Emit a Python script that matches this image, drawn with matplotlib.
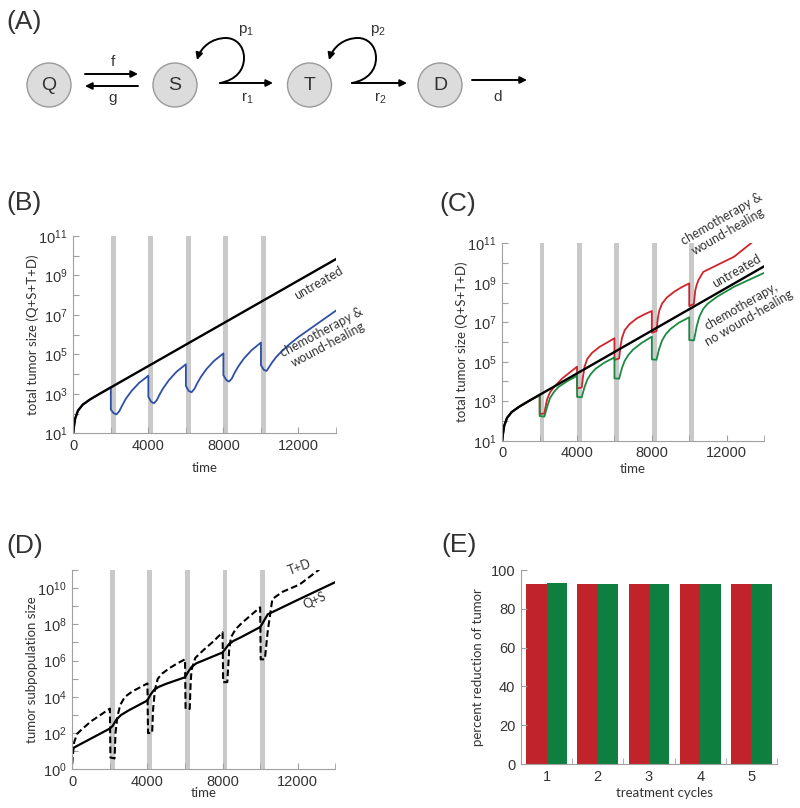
import numpy as np
import matplotlib
matplotlib.use("Agg")
import matplotlib.pyplot as plt
from matplotlib.patches import Circle, FancyArrowPatch
from matplotlib.path import Path
from matplotlib.ticker import FixedLocator, FixedFormatter, NullLocator

plt.rcParams["font.family"] = ["Liberation Sans", "DejaVu Sans"]
plt.rcParams["mathtext.default"] = "regular"

LABEL_FONT = ["Lato", "DejaVu Sans"]
TXT = "#333333"
AX_GRAY = "#a0a0a0"
BAR_GRAY = "#c9c9c9"

# ---- data, sizes stored as log10 ----
treat_start = [2000, 4000, 6000, 8000, 10000]
treat_len = 250

untreated_t = [0, 30, 100, 250, 500, 900, 1400, 14000]
untreated_log = [1.0, 1.3, 1.75, 2.15, 2.45, 2.72, 3.0, 9.83]

b_chemo_t = [0, 30, 100, 250, 500, 900, 1400, 2000,
             2000, 2150, 2300, 2450, 2600, 2800, 3100, 3500, 4000,
             4000, 4150, 4300, 4450, 4600, 4800, 5100, 5500, 6000,
             6000, 6150, 6300, 6450, 6600, 6800, 7100, 7500, 8000,
             8000, 8150, 8300, 8450, 8600, 8800, 9100, 9500, 10000,
             10000, 10150, 10300, 10450, 10600, 10800, 11100, 11500, 12000, 13000, 14000]
b_chemo_log = [1.0, 1.3, 1.75, 2.15, 2.45, 2.72, 3.0, 3.33,
               2.2, 2.02, 1.96, 2.12, 2.4, 2.75, 3.14, 3.55, 3.92,
               2.85, 2.6, 2.52, 2.68, 2.97, 3.3, 3.7, 4.12, 4.5,
               3.4, 3.15, 3.08, 3.24, 3.53, 3.86, 4.26, 4.67, 5.05,
               3.95, 3.7, 3.62, 3.78, 4.07, 4.4, 4.8, 5.21, 5.6,
               4.45, 4.22, 4.16, 4.38, 4.6, 4.85, 5.15, 5.5, 5.88, 6.55, 7.22]

c_wound_t = [0, 30, 100, 250, 500, 900, 1400, 2000,
             2000, 2250, 2320, 2400, 2550, 2800, 3200, 3600, 4000,
             4000, 4250, 4320, 4400, 4550, 4800, 5200, 5600, 6000,
             6000, 6250, 6320, 6400, 6550, 6800, 7200, 7600, 8000,
             8000, 8250, 8320, 8400, 8550, 8800, 9200, 9600, 10000,
             10000, 10250, 10320, 10400, 10500, 10750, 11500, 12400, 13340]
c_wound_log = [1.0, 1.3, 1.75, 2.15, 2.45, 2.72, 3.0, 3.33,
               2.35, 2.38, 2.75, 3.1, 3.45, 3.75, 4.15, 4.45, 4.75,
               3.65, 3.7, 4.25, 4.75, 5.15, 5.45, 5.75, 5.97, 6.19,
               5.09, 5.17, 5.75, 6.2, 6.6, 6.9, 7.2, 7.4, 7.57,
               6.47, 6.55, 7.2, 7.6, 7.95, 8.25, 8.55, 8.78, 8.97,
               7.82, 7.93, 8.6, 8.9, 9.15, 9.55, 9.9, 10.32, 11.03]

c_nowound_t = [0, 30, 100, 250, 500, 900, 1400, 2000,
               2000, 2250, 2320, 2400, 2550, 2750, 3000, 3450, 4000,
               4000, 4250, 4320, 4400, 4550, 4750, 5000, 5450, 6000,
               6000, 6250, 6320, 6400, 6550, 6750, 7000, 7450, 8000,
               8000, 8250, 8320, 8400, 8550, 8750, 9000, 9450, 10000,
               10000, 10250, 10320, 10400, 10550, 10750, 11000, 11500, 12400, 14000]
c_nowound_log = [1.0, 1.3, 1.75, 2.15, 2.45, 2.72, 3.0, 3.33,
                 2.25, 2.22, 2.45, 2.72, 3.15, 3.45, 3.72, 4.0, 4.29,
                 3.22, 3.2, 3.45, 3.72, 4.1, 4.4, 4.65, 4.95, 5.22,
                 4.16, 4.14, 4.4, 4.68, 5.05, 5.35, 5.62, 5.95, 6.27,
                 5.12, 5.1, 5.38, 5.68, 6.08, 6.4, 6.66, 6.98, 7.25,
                 6.1, 6.08, 6.4, 6.8, 7.3, 7.68, 7.95, 8.3, 8.8, 9.5]

d_qs_t = [0, 2000, 2150, 2350, 2600, 3000, 4000, 4150, 4350, 4600, 5000,
          6000, 6150, 6350, 6600, 7000, 8000, 8150, 8350, 8600, 9000,
          10000, 10150, 10400, 12000, 14000]
d_qs_log = [1.15, 2.25, 2.4, 2.75, 3.0, 3.25, 3.8, 4.1, 4.38, 4.55, 4.72,
            5.08, 5.35, 5.65, 5.85, 6.02, 6.45, 6.65, 6.92, 7.1, 7.3,
            7.85, 8.1, 8.55, 9.35, 10.33]

d_td_t = [0, 30, 100, 250, 500, 1000, 2000,
          2030, 2250, 2300, 2400, 2550, 2800, 3200, 3600, 4000,
          4030, 4250, 4300, 4400, 4550, 4800, 5200, 5600, 6000,
          6030, 6250, 6300, 6350, 6550, 6950, 7500, 8000,
          8030, 8250, 8350, 8450, 8700, 9050, 9500, 10000,
          10030, 10250, 10400, 10650, 11200, 12100, 13150]
d_td_log = [0.3, 0.8, 1.5, 1.95, 2.2, 2.65, 3.35,
            0.65, 0.6, 2.0, 2.9, 3.55, 4.0, 4.3, 4.52, 4.74,
            2.0, 2.0, 3.3, 4.4, 5.0, 5.3, 5.6, 5.85, 6.07,
            3.33, 3.33, 4.8, 5.5, 6.15, 6.55, 7.05, 7.56,
            4.81, 4.81, 6.6, 7.3, 7.74, 8.1, 8.5, 8.94,
            6.07, 6.07, 7.6, 9.4, 9.8, 10.2, 11.03]

e_cycles = [1, 2, 3, 4, 5]
e_wound = [92.8, 92.8, 92.8, 92.8, 92.8]
e_nowound = [93.1, 92.8, 92.8, 92.8, 92.8]

# diagram
node_names = ["Q", "S", "T", "D"]
rate_arrows = [("f", 85, 74, 138, 74, 113, 62), ("g", 138, 86, 85, 86, 113, 98),
               ("$r_1$", 220, 83, 273, 83, 247, 98), ("$r_2$", 352, 83, 407, 83, 380, 98),
               ("d", 472, 80, 527, 80, 498, 97)]
loop_labels = ["$p_1$", "$p_2$"]

W, H = 800, 808
fig = plt.figure(figsize=(8.0, 8.08), dpi=100)


def px_axes(l, t, r, b):
    return fig.add_axes([l / W, 1 - b / H, (r - l) / W, (b - t) / H])


def ftext(x, y, s, **kw):
    fig.text(x / W, 1 - y / H, s, **kw)


# ---- panel A: the compartment diagram ----
axA = fig.add_axes([0, 0, 1, 1])
axA.set_xlim(0, W)
axA.set_ylim(H, 0)
axA.axis("off")
node_x = [49, 175, 309.5, 440]
for name, x in zip(node_names, node_x):
    axA.add_patch(Circle((x, 85), 22, facecolor="#dcdcdc", edgecolor="#9a9a9a", lw=1.0))
    axA.text(x, 86, name, ha="center", va="center", fontsize=14, color=TXT)
for lab, x0, y0, x1, y1, lx, ly in rate_arrows:
    axA.annotate("", xy=(x1, y1), xytext=(x0, y0),
                 arrowprops=dict(arrowstyle="-|>", color="black", lw=1.4,
                                 mutation_scale=10, shrinkA=0, shrinkB=0))
    axA.text(lx, ly, lab, ha="center", va="center", fontsize=11, color=TXT)
for lab, x0 in zip(loop_labels, [220, 352]):
    y0 = 83
    verts = [(x0, y0), (x0 + 16, y0 - 3), (x0 + 24, y0 - 13), (x0 + 24, y0 - 25),
             (x0 + 24, y0 - 38), (x0 + 15, y0 - 45), (x0 + 6, y0 - 45),
             (x0 - 8, y0 - 45), (x0 - 19, y0 - 36), (x0 - 23, y0 - 23)]
    codes = [Path.MOVETO] + [Path.CURVE4] * 9
    axA.add_patch(FancyArrowPatch(path=Path(verts, codes), arrowstyle="-|>",
                                  mutation_scale=10, lw=1.4, color="black"))
    axA.text(x0 + 26, 31, lab, ha="center", va="center", fontsize=11, color=TXT)


def style_log(ax, lo, hi, labeled):
    ax.set_yscale("log")
    ax.set_xlim(0, 14000)
    ax.set_ylim(10.0 ** lo, 10.0 ** hi)
    ks = list(range(lo, hi + 1))
    ax.yaxis.set_major_locator(FixedLocator([10.0 ** k for k in ks]))
    ax.yaxis.set_major_formatter(FixedFormatter(
        [f"$10^{{{k}}}$" if k in labeled else "" for k in ks]))
    ax.yaxis.set_minor_locator(NullLocator())
    ax.set_xticks([0, 4000, 8000, 12000])
    ax.set_xticks([2000, 6000, 10000, 14000], minor=True)
    for s in ["top", "right"]:
        ax.spines[s].set_visible(False)
    for s in ["left", "bottom"]:
        ax.spines[s].set_color(AX_GRAY)
    ax.tick_params(which="both", direction="in", color=AX_GRAY, length=4,
                   labelsize=10.5, labelcolor=TXT, pad=4)
    for s in treat_start:
        ax.axvspan(s, s + treat_len, color=BAR_GRAY, lw=0, zorder=0)


def lab(ax, xl, yl, xl_off, yl_x, xl_x=0.5):
    ax.set_xlabel(xl, family=LABEL_FONT, fontsize=9.5, color=TXT)
    ax.set_ylabel(yl, family=LABEL_FONT, fontsize=9.5, color=TXT)
    ax.xaxis.set_label_coords(xl_x, xl_off)
    ax.yaxis.set_label_coords(yl_x, 0.5)
    ax.xaxis.label.set_va("center")
    ax.yaxis.label.set_va("center")


def p10(a):
    return np.power(10.0, a)


# ---- panel B ----
axB = px_axes(73.3, 236, 336, 433.3)
style_log(axB, 1, 11, [1, 3, 5, 7, 9, 11])
axB.plot(b_chemo_t, p10(b_chemo_log), color="#2d4fa6", lw=1.3)
axB.plot(untreated_t, p10(untreated_log), color="black", lw=1.7)
lab(axB, "time", "total tumor size (Q+S+T+D)", -35 / 197.3, -41 / 262.7)

# ---- panel C ----
axC = px_axes(502.3, 243.3, 764, 440.7)
style_log(axC, 1, 11, [1, 3, 5, 7, 9, 11])
axC.plot(c_wound_t, p10(c_wound_log), color="#d0232a", lw=1.3)
axC.plot(c_nowound_t, p10(c_nowound_log), color="#1a8a40", lw=1.3)
axC.plot(untreated_t, p10(untreated_log), color="black", lw=1.7)
lab(axC, "time", "total tumor size (Q+S+T+D)", -28 / 197.4, -40.6 / 261.7)

# ---- panel D ----
axD = px_axes(72.3, 570, 335.3, 769.3)
style_log(axD, 0, 11, [0, 2, 4, 6, 8, 10])
axD.plot(d_td_t, p10(d_td_log), color="black", lw=1.5, ls=(0, (3.2, 1.6)))
axD.plot(d_qs_t, p10(d_qs_log), color="black", lw=1.6)
lab(axD, "time", "tumor subpopulation size", -24 / 199.3, -40 / 263)

# ---- panel E ----
axE = px_axes(521, 570, 777, 764)
xs = np.array(e_cycles, dtype=float)
axE.bar(xs - 0.2, e_wound, width=0.4, color="#c1232b", lw=0)
axE.bar(xs + 0.2, e_nowound, width=0.4, color="#0e7f3e", lw=0)
axE.set_xlim(0.5, 5.5)
axE.set_ylim(0, 100)
axE.set_yticks([0, 20, 40, 60, 80, 100])
axE.set_xticks(e_cycles)
axE.set_xticks([1.5, 2.5, 3.5, 4.5, 5.5], minor=True)
for s in ["top", "right"]:
    axE.spines[s].set_visible(False)
for s in ["left", "bottom"]:
    axE.spines[s].set_color(AX_GRAY)
axE.tick_params(which="both", direction="in", color=AX_GRAY, length=4,
                labelsize=10.5, labelcolor=TXT, pad=4)
axE.tick_params(axis="x", which="major", length=0)
lab(axE, "treatment cycles", "percent reduction of tumor", -29 / 194, -43 / 256, 0.56)

# ---- annotations ----
ann = dict(family=LABEL_FONT, fontsize=9, color=TXT, ha="center", va="center",
           multialignment="center", rotation_mode="anchor")
ftext(319, 283, "untreated", rotation=30, **ann)
ftext(325, 338, "chemotherapy &\nwound-healing", rotation=28, **ann)
ftext(725, 225, "chemotherapy &\nwound-healing", rotation=30, **ann)
ftext(737, 271, "untreated", rotation=30, **ann)
ftext(745, 312, "chemotherapy,\nno wound-healing", rotation=30, **ann)
ftext(300, 567, "T+D", rotation=20, **ann)
ftext(315, 600, "Q+S", rotation=25, **ann)

# ---- panel letters ----
for letter, x, y in [("(A)", 6, 22), ("(B)", 6, 203), ("(C)", 439, 204),
                     ("(D)", 6, 546), ("(E)", 441, 545)]:
    ftext(x, y, letter, fontsize=19, color=TXT, ha="left", va="center")

fig.savefig("out.png", dpi=100)
